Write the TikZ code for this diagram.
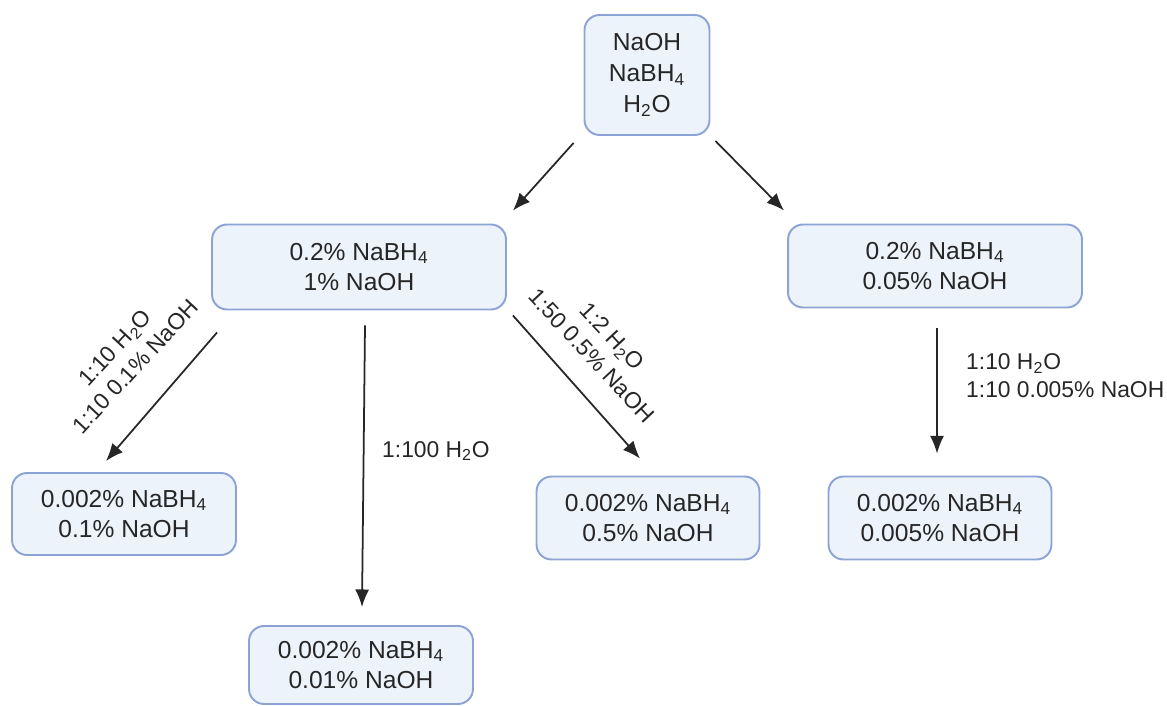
\documentclass[tikz,border=0pt]{standalone}
\usepackage{fontspec}
\setmainfont{Liberation Sans}
\usepackage{xcolor}
\usetikzlibrary{arrows.meta,positioning,calc}
\definecolor{boxrand}{RGB}{141,163,214}
\definecolor{boxfuell}{RGB}{237,243,251}
\begin{document}
\begin{tikzpicture}[x=0.02cm,y=-0.02cm]
      \tikzset{
        probe/.style={rectangle, rounded corners=0.3cm, draw=boxrand, fill=boxfuell,
                      line width=1.1pt, align=center, inner sep=0pt, text=black!85,
                      font=\fontsize{14}{17.5}\selectfont},
        verd/.style={align=center, text=black!85, font=\fontsize{13}{16}\selectfont},
        pfeil/.style={-{Latex[length=10pt,width=8pt]}, line width=1pt, black!85}
      }
      \useasboundingbox (0,0) rectangle (1167,706);

      \node[probe, minimum width=2.5cm, minimum height=2.4cm] (start) at (647,75) {
        NaOH\\ NaBH\textsubscript{4}\\ H\textsubscript{2}O
      };

      \node[probe, minimum width=5.88cm, minimum height=1.7cm] (links) at (359,267) {
        0.2\% NaBH\textsubscript{4}\\ 1\% NaOH
      };
      \node[probe, minimum width=5.88cm, minimum height=1.66cm] (rechts) at (935,266) {
        0.2\% NaBH\textsubscript{4}\\ 0.05\% NaOH
      };

      \node[probe, minimum width=4.48cm, minimum height=1.64cm] (probe1) at (124,514) {
        0.002\% NaBH\textsubscript{4}\\ 0.1\% NaOH
      };
      \node[probe, minimum width=4.48cm, minimum height=1.56cm] (probe2) at (361,665) {
        0.002\% NaBH\textsubscript{4}\\ 0.01\% NaOH
      };
      \node[probe, minimum width=4.46cm, minimum height=1.66cm] (probe3) at (648,518) {
        0.002\% NaBH\textsubscript{4}\\ 0.5\% NaOH
      };
      \node[probe, minimum width=4.46cm, minimum height=1.66cm] (probe4) at (940,518) {
        0.002\% NaBH\textsubscript{4}\\ 0.005\% NaOH
      };

      \draw[pfeil] ($(start.south west)+(-10,7)$) -- ($(links.north east)+(6,-13)$);
      \draw[pfeil] ($(start.south east)+(5,5)$) -- ($(rechts.north west)+(-3,-13)$);
      \draw[pfeil] ($(links.south west)+(6,22)$) -- ($(probe1.north)+(-18,-11)$);
      \draw[pfeil] ($(links.south)+(6,15)$) -- ($(probe2.north)+(1,-18)$);
      \draw[pfeil] ($(links.south east)+(6,5)$) -- ($(probe3.north)+(-8,-17)$);
      \draw[pfeil] ($(rechts.south)+(2,20)$) -- ($(probe4.north)+(-3,-22)$);

      % Verduennungen
      \node[verd, rotate=47] (v1) at (125,357) {1:10 H\textsubscript{2}O\\ 1:10 0.1\% NaOH};
      \node[verd, anchor=west] (v2) at (376,451) {1:100 H\textsubscript{2}O};
      \node[verd, rotate=-47] (v3) at (602,346) {1:2 H\textsubscript{2}O\\ 1:50 0.5\% NaOH};
      \node[verd, anchor=west, align=left] (v4) at (960,376) {1:10 H\textsubscript{2}O\\ 1:10 0.005\% NaOH};

    \end{tikzpicture}
\end{document}
